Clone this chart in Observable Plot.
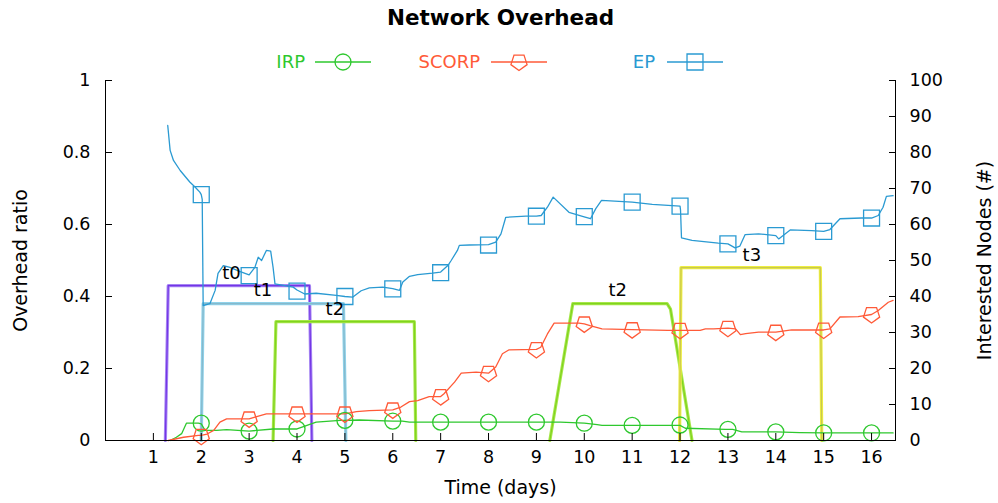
<!DOCTYPE html>
<html><head><meta charset="utf-8">
<script src="https://cdn.jsdelivr.net/npm/d3@7"></script>
<script src="https://cdn.jsdelivr.net/npm/@observablehq/plot@0.6"></script>
<style>
body{margin:0;background:#fff;}
#wrap{position:relative;width:998px;height:503px;font-family:"DejaVu Sans",sans-serif;}
#legend{position:absolute;left:0;top:0;width:998px;height:0;}
.lgt{position:absolute;top:51px;font-size:18px;line-height:22px;white-space:nowrap;}
.lgs{position:absolute;top:52px;}
</style></head>
<body><div id="wrap"><div id="legend"></div></div>
<script>
// ---- data ----
const xTicks = [1,2,3,4,5,6,7,8,9,10,11,12,13,14,15,16];
const leftTicks = [0,0.2,0.4,0.6,0.8,1];
const rightTicks = [0,10,20,30,40,50,60,70,80,90,100];

const markerDays = [2,3,4,5,6,7,8,9,10,11,12,13,14,15,16];
const irpMarkers = [0.048,0.026,0.032,0.056,0.054,0.051,0.051,0.051,0.048,0.042,0.043,0.031,0.024,0.021,0.021];
const scorpMarkers = [0.012,0.060,0.074,0.074,0.085,0.122,0.187,0.253,0.324,0.308,0.306,0.312,0.301,0.307,0.350];
const epMarkers = [0.683,0.458,0.415,0.400,0.421,0.466,0.543,0.623,0.622,0.662,0.651,0.546,0.569,0.581,0.618];

const irpLine = [[1.35,0],[1.48,0.009],[1.59,0.019],[1.69,0.048],[1.94,0.048],[2.0,0.046],[2.08,0.028],[2.32,0.028],[2.53,0.03],[3.0,0.026],[3.5,0.032],[4.0,0.032],[4.4,0.051],[4.9,0.056],[5.0,0.056],[5.3,0.057],[6.0,0.054],[6.2,0.054],[6.35,0.051],[7,0.051],[8,0.051],[9,0.051],[9.5,0.051],[10,0.048],[10.27,0.044],[10.37,0.042],[11,0.042],[12,0.042],[12.11,0.034],[12.95,0.031],[13.1,0.031],[13.29,0.024],[14,0.024],[14.5,0.022],[15,0.021],[16,0.021],[16.45,0.021]];

const scorpLine = [[1.31,0],[1.63,0.009],[1.94,0.014],[2.0,0.014],[2.12,0.018],[2.26,0.028],[2.39,0.051],[2.53,0.06],[2.88,0.06],[3.0,0.06],[3.12,0.065],[3.36,0.074],[3.85,0.074],[4.0,0.074],[4.9,0.074],[5.0,0.074],[5.24,0.08],[5.51,0.083],[6.0,0.085],[6.17,0.093],[6.35,0.108],[6.52,0.111],[6.76,0.122],[7.0,0.122],[7.07,0.13],[7.29,0.162],[7.43,0.187],[7.74,0.19],[8.0,0.187],[8.15,0.204],[8.29,0.241],[8.43,0.252],[9.0,0.253],[9.09,0.259],[9.23,0.296],[9.37,0.326],[9.89,0.326],[10.0,0.324],[10.12,0.319],[10.37,0.31],[11.0,0.308],[11.75,0.306],[12.0,0.306],[12.42,0.306],[12.53,0.31],[12.7,0.31],[13.0,0.312],[13.16,0.31],[13.26,0.294],[13.37,0.297],[13.64,0.301],[14.0,0.301],[14.33,0.307],[15.0,0.307],[15.13,0.31],[15.34,0.343],[15.72,0.344],[16.0,0.35],[16.14,0.361],[16.35,0.384],[16.45,0.389]];

const epLine = [[1.30,0.875],[1.35,0.806],[1.42,0.778],[1.56,0.75],[1.76,0.718],[1.87,0.704],[1.97,0.69],[2.0,0.683],[2.02,0.67],[2.04,0.375],[2.18,0.38],[2.29,0.417],[2.35,0.464],[2.46,0.486],[2.60,0.481],[2.8,0.47],[3.0,0.46],[3.12,0.481],[3.19,0.509],[3.26,0.5],[3.36,0.528],[3.45,0.526],[3.50,0.481],[3.54,0.435],[3.92,0.426],[4.0,0.418],[4.16,0.407],[4.40,0.409],[4.82,0.403],[5.0,0.4],[5.16,0.398],[5.34,0.416],[5.51,0.424],[5.79,0.426],[6.0,0.422],[6.14,0.417],[6.21,0.44],[6.35,0.456],[6.52,0.461],[6.83,0.465],[7.0,0.468],[7.15,0.486],[7.22,0.5],[7.35,0.528],[7.39,0.542],[7.6,0.543],[8.0,0.544],[8.15,0.551],[8.26,0.574],[8.36,0.62],[8.78,0.623],[9.0,0.623],[9.1,0.625],[9.23,0.648],[9.35,0.676],[9.68,0.634],[9.98,0.622],[10.13,0.616],[10.24,0.644],[10.36,0.667],[11.0,0.662],[11.42,0.656],[12.0,0.651],[12.01,0.64],[12.03,0.563],[12.25,0.556],[12.8,0.548],[13.0,0.546],[13.15,0.535],[13.25,0.54],[13.36,0.572],[13.64,0.574],[14.0,0.569],[14.06,0.56],[14.3,0.585],[14.75,0.583],[15.0,0.581],[15.13,0.586],[15.34,0.616],[15.79,0.618],[16.0,0.618],[16.14,0.625],[16.24,0.648],[16.31,0.678],[16.45,0.68]];

// interested nodes (#), right axis
const t0Nodes = [[1.25,0],[1.31,43],[4.26,43],[4.31,0]];
const t1Nodes = [[2.0,0],[2.04,38],[4.97,38],[5.02,0]];
const t2aNodes = [[3.5,0],[3.56,33],[6.45,33],[6.48,0]];
const t2bNodes = [[9.28,0],[9.76,38],[11.73,38],[11.8,36.5],[12.25,0]];
const t3Nodes = [[11.99,0],[12.02,48],[14.93,48],[14.96,0]];

const topicLabels = ["t0","t1","t2","t2","t3"];
const topicLabelX = [2.63,3.29,4.79,10.7,13.5];
const topicLabelY = [46.5,41.7,36.6,41.7,51.4];

const seriesNames = ["IRP","SCORP","EP"];
const seriesColors = ["#2ec82e","#ff5a38","#2a9ad2"];

// ---- symbols ----
const pentagonDown = {draw(ctx, size){
  const R = Math.sqrt(size/Math.PI);
  for (let i=0;i<5;i++){
    const a = Math.PI/2 + i*2*Math.PI/5;
    const px = R*Math.cos(a), py = R*Math.sin(a);
    if (i===0) ctx.moveTo(px,py); else ctx.lineTo(px,py);
  }
  ctx.closePath();
}};

const nodeY = d => d[1]/100;
function shape(data, outer, inner){
  return [
    Plot.line(data, {x: d=>d[0], y: nodeY, stroke: outer, strokeWidth: 3.2}),
    Plot.line(data, {x: d=>d[0], y: nodeY, stroke: inner, strokeWidth: 1.2})
  ];
}
const lineW = 1.3;

const chart = Plot.plot({
  width: 998, height: 503,
  marginLeft: 105, marginRight: 103, marginTop: 80, marginBottom: 63,
  style: {fontFamily: "DejaVu Sans", fontSize: "17.5px", background: "white", color: "black"},
  x: {domain: [0, 16.5]},
  y: {domain: [0, 1]},
  marks: [
    ...shape(t0Nodes, "#a585f3", "#7434e6"),
    ...shape(t1Nodes, "#8fd2ea", "#86b9cc"),
    ...shape(t2aNodes, "#a7e64a", "#7fd41e"),
    ...shape(t2bNodes, "#a7e64a", "#7fd41e"),
    ...shape(t3Nodes, "#eeee40", "#c8c850"),
    Plot.line(irpLine, {x: d=>d[0], y: d=>d[1], stroke: seriesColors[0], strokeWidth: lineW}),
    Plot.line(scorpLine, {x: d=>d[0], y: d=>d[1], stroke: seriesColors[1], strokeWidth: lineW}),
    Plot.line(epLine, {x: d=>d[0], y: d=>d[1], stroke: seriesColors[2], strokeWidth: lineW}),
    Plot.dot(markerDays, {x: d=>d, y: (d,i)=>irpMarkers[i], r: 8, symbol: "circle", stroke: seriesColors[0], strokeWidth: lineW, fill: "none"}),
    Plot.dot(markerDays, {x: d=>d, y: (d,i)=>scorpMarkers[i], r: 8.5, symbol: pentagonDown, stroke: seriesColors[1], strokeWidth: lineW, fill: "none"}),
    Plot.dot(markerDays, {x: d=>d, y: (d,i)=>epMarkers[i], r: 9, symbol: "square", stroke: seriesColors[2], strokeWidth: lineW, fill: "none"}),
    Plot.text(topicLabels, {x: (d,i)=>topicLabelX[i], y: (d,i)=>topicLabelY[i]/100, text: d=>d, fill: "black", fontSize: 18}),
    Plot.ruleX([0, 16.5], {stroke: "black"}),
    Plot.ruleY([0], {stroke: "black"}),
    Plot.axisX(xTicks, {tickSize: -7, tickPadding: 17, label: null, tickFormat: d=>String(d)}),
    Plot.axisY(leftTicks, {anchor: "left", tickSize: -7, tickPadding: 22, label: null, tickFormat: d=>String(d)}),
    Plot.axisY(rightTicks.map(v=>v/100), {anchor: "right", tickSize: -7, tickPadding: 21, label: null, tickFormat: d=>String(Math.round(d*100))}),
    Plot.text(["Network Overhead"], {frameAnchor: "top", dy: -62, lineAnchor: "middle", textAnchor: "middle", text: d=>d, fontWeight: "bold", fontSize: 21.5}),
    Plot.text(["Time (days)"], {frameAnchor: "bottom", dy: 47, lineAnchor: "middle", textAnchor: "middle", text: d=>d, fontSize: 19}),
    Plot.text(["Overhead ratio"], {frameAnchor: "left", dx: -85, rotate: -90, lineAnchor: "middle", textAnchor: "middle", text: d=>d, fontSize: 19}),
    Plot.text(["Interested Nodes (#)"], {frameAnchor: "right", dx: 89, rotate: -90, lineAnchor: "middle", textAnchor: "middle", text: d=>d, fontSize: 19})
  ]
});
document.getElementById("wrap").prepend(chart);
chart.style.position = "absolute"; chart.style.left = "0"; chart.style.top = "0";

// ---- legend ----
const legendTextRight = [305, 480, 655];
const legendLineLeft = [314, 490, 666];
const legendSymbols = [d3.symbolCircle, pentagonDown, d3.symbolSquare];
const legendR = [8, 8.5, 9];
const lg = d3.select("#legend");
seriesNames.forEach((name, i) => {
  lg.append("div").attr("class","lgt")
    .style("right", (998 - legendTextRight[i]) + "px")
    .style("color", seriesColors[i]).text(name);
  const s = lg.append("svg").attr("class","lgs")
    .style("left", legendLineLeft[i] + "px")
    .attr("width", 58).attr("height", 20);
  s.append("line").attr("x1",1).attr("x2",57).attr("y1",10).attr("y2",10)
    .attr("stroke", seriesColors[i]).attr("stroke-width", lineW);
  s.append("path").attr("transform","translate(29,10)")
    .attr("d", d3.symbol(legendSymbols[i], Math.PI*legendR[i]*legendR[i])())
    .attr("fill","none").attr("stroke", seriesColors[i]).attr("stroke-width", lineW);
});
</script>
</body></html>
